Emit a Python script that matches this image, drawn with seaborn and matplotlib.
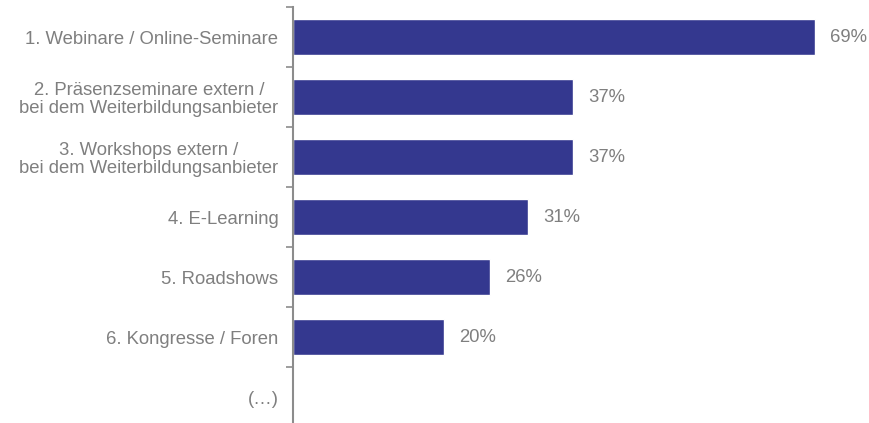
import matplotlib
matplotlib.use("Agg")
import matplotlib.pyplot as plt
import seaborn as sns
import pandas as pd
from matplotlib.ticker import FixedLocator

categories = [
    "1. Webinare / Online-Seminare",
    "2. Präsenzseminare extern /\nbei dem Weiterbildungsanbieter",
    "3. Workshops extern /\nbei dem Weiterbildungsanbieter",
    "4. E-Learning",
    "5. Roadshows",
    "6. Kongresse / Foren",
    "(…)",
]
values = [69, 37, 37, 31, 26, 20]

BAR_COLOR = "#34388f"
TEXT_COLOR = "#7f7f7f"
AXIS_COLOR = "#8c8c8c"
FONT_SIZE = 13.3

sns.set_style("white")
plt.rcParams["font.family"] = ["Liberation Sans", "DejaVu Sans"]

df = pd.DataFrame({"kategorie": categories[:len(values)], "anteil": values})

fig = plt.figure(figsize=(8.7, 4.23), dpi=100)
ax = fig.add_axes([293 / 870, -4 / 423, 575 / 870, 1 - 3 / 423])

sns.barplot(data=df, y="kategorie", x="anteil", order=categories,
            color=BAR_COLOR, saturation=1, width=0.6, orient="h", ax=ax)

ax.set_xlim(0, 76)
ax.set_ylim(len(categories) - 0.5, -0.5)
ax.set_xlabel("")
ax.set_ylabel("")
ax.set_xticks([])

for c in ax.containers:
    ax.bar_label(c, labels=[f"{v:.0f}%" for v in c.datavalues],
                 padding=11, color=TEXT_COLOR, fontsize=FONT_SIZE)

ax.tick_params(axis="y", which="major", length=0, pad=10.5,
               labelsize=FONT_SIZE, labelcolor=TEXT_COLOR)
for lab in ax.get_yticklabels():
    lab.set_multialignment("center")
    lab.set_linespacing(1.1)

ax.yaxis.set_minor_locator(FixedLocator([i - 0.5 for i in range(len(categories) + 1)]))
ax.tick_params(axis="y", which="minor", left=True, length=5, width=1.2,
               color=AXIS_COLOR)

for side in ["top", "right", "bottom"]:
    ax.spines[side].set_visible(False)
ax.spines["left"].set_color(AXIS_COLOR)
ax.spines["left"].set_linewidth(1.5)

fig.savefig("out.png", dpi=100)
